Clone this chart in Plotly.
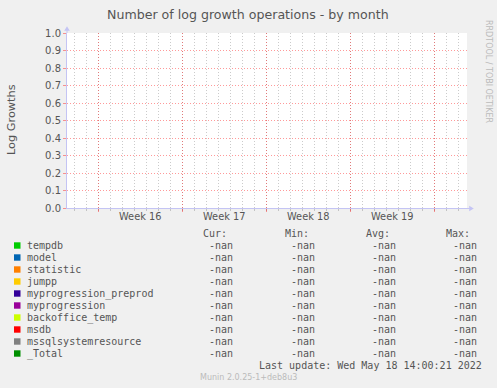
import math
import plotly.graph_objects as go

# ---------------- data ----------------
series_names = ["tempdb", "model", "statistic", "jumpp", "myprogression_preprod",
                "myprogression", "backoffice_temp", "msdb", "mssqlsystemresource", "_Total"]
series_colors = ["#00cc00", "#0066b3", "#ff8000", "#ffcc00", "#330099",
                 "#990099", "#ccff00", "#ff0000", "#808080", "#008f00"]
cur_values = ["-nan"] * 10
min_values = ["-nan"] * 10
avg_values = ["-nan"] * 10
max_values = ["-nan"] * 10
column_headers = ["Cur:", "Min:", "Avg:", "Max:"]

time_points = ["2022-04-15 09:24", "2022-05-18 17:24"]
series_y = [[math.nan, math.nan] for _ in series_names]

week_starts = ["2022-04-18", "2022-04-25", "2022-05-02", "2022-05-09", "2022-05-16"]
week_mids = ["2022-04-21 12:00", "2022-04-28 12:00", "2022-05-05 12:00", "2022-05-12 12:00"]
week_labels = ["Week 16", "Week 17", "Week 18", "Week 19"]

title_text = "Number of log growth operations - by month"
y_title = "Log Growths"
last_update = "Last update: Wed May 18 14:00:21 2022"
munin_version = "Munin 2.0.25-1+deb8u3"
rrd_credit = "RRDTOOL / TOBI OETIKER"

# ---------------- layout helpers ----------------
W, H = 497, 388
L, R, T, B = 67, 467, 33, 208


def px(x):
    return (x - L) / (R - L)


def py(y):
    return (B - y) / (B - T)


TXT = "#555555"
MAJOR = "rgba(255,0,0,0.40)"
MINOR = "rgba(140,140,140,0.45)"
AXIS = "#c4c4f4"
SANS = "DejaVu Sans"
MONO = "DejaVu Sans Mono"

fig = go.Figure()
for name, color, ys in zip(series_names, series_colors, series_y):
    fig.add_trace(go.Scatter(x=time_points, y=ys, mode="lines", name=name,
                             line=dict(color=color, width=1), showlegend=False))

ann = []
shapes = []

# title
ann.append(dict(text=title_text, x=px(248), y=py(14), xref="paper", yref="paper",
                xanchor="center", yanchor="middle", showarrow=False,
                font=dict(family=SANS, size=12.6, color=TXT)))
# y title
ann.append(dict(text=y_title, x=px(11), y=py(119), xref="paper", yref="paper",
                xanchor="center", yanchor="middle", showarrow=False, textangle=-90,
                font=dict(family=SANS, size=11.3, color=TXT)))
# right credit
ann.append(dict(text=rrd_credit, x=px(489), y=py(71), xref="paper", yref="paper",
                xanchor="center", yanchor="middle", showarrow=False, textangle=90,
                font=dict(family=SANS, size=8, color="#bbbbbb")))
# week labels
for xm, lab in zip(week_mids, week_labels):
    ann.append(dict(text=lab, x=xm, y=py(216.5), xref="x", yref="paper",
                    xanchor="center", yanchor="middle", showarrow=False,
                    font=dict(family=SANS, size=9.8, color=TXT)))

# legend header
header_right = [228, 310, 391, 471]
value_right = [234, 316, 397, 478]
for hx, h in zip(header_right, column_headers):
    ann.append(dict(text=h, x=px(hx), y=py(233.5), xref="paper", yref="paper",
                    xanchor="right", yanchor="middle", showarrow=False, borderpad=0,
                    font=dict(family=MONO, size=10, color=TXT)))

cols = [cur_values, min_values, avg_values, max_values]
for i, (name, color) in enumerate(zip(series_names, series_colors)):
    yc = 245.5 + 12 * i
    shapes.append(dict(type="rect", xref="paper", yref="paper",
                       x0=px(14), x1=px(20.5), y0=py(yc - 3.2), y1=py(yc + 3.2),
                       fillcolor=color, line=dict(width=0)))
    ann.append(dict(text=name, x=px(26), y=py(yc), xref="paper", yref="paper",
                    xanchor="left", yanchor="middle", showarrow=False, borderpad=0,
                    font=dict(family=MONO, size=10, color=TXT)))
    for vx, col in zip(value_right, cols):
        ann.append(dict(text=col[i], x=px(vx), y=py(yc), xref="paper", yref="paper",
                        xanchor="right", yanchor="middle", showarrow=False, borderpad=0,
                        font=dict(family=MONO, size=10, color=TXT)))

ann.append(dict(text=last_update, x=px(483), y=py(365.5), xref="paper", yref="paper",
                xanchor="right", yanchor="middle", showarrow=False, borderpad=0,
                font=dict(family=MONO, size=10, color=TXT)))
ann.append(dict(text=munin_version, x=px(248.5), y=py(377.5), xref="paper", yref="paper",
                xanchor="center", yanchor="middle", showarrow=False, borderpad=0,
                font=dict(family=SANS, size=8, color="#bbbbbb")))

# axis arrows
shapes.append(dict(type="line", xref="paper", yref="paper", x0=px(67), x1=px(67),
                   y0=py(33), y1=py(30), line=dict(color=AXIS, width=1)))
shapes.append(dict(type="path", xref="paper", yref="paper",
                   path=f"M {px(64.2)} {py(30.8)} L {px(69.8)} {py(30.8)} L {px(67)} {py(26.3)} Z",
                   fillcolor=AXIS, line=dict(width=0)))
shapes.append(dict(type="line", xref="paper", yref="paper", x0=px(467), x1=px(470),
                   y0=py(208.5), y1=py(208.5), line=dict(color=AXIS, width=1)))
shapes.append(dict(type="path", xref="paper", yref="paper",
                   path=f"M {px(469.2)} {py(205.7)} L {px(469.2)} {py(211.3)} L {px(473.8)} {py(208.5)} Z",
                   fillcolor=AXIS, line=dict(width=0)))

fig.update_layout(
    width=W, height=H,
    margin=dict(l=L, r=W - R, t=T, b=H - B, pad=0),
    paper_bgcolor="#f0f0f0", plot_bgcolor="#ffffff",
    showlegend=False,
    annotations=ann, shapes=shapes,
    xaxis=dict(type="date", range=time_points, tickmode="array", tickvals=week_starts,
               showticklabels=False, ticks="outside", ticklen=3, tickcolor=MAJOR,
               showgrid=True, gridcolor=MAJOR, griddash="1px,2px", gridwidth=1,
               showline=True, linecolor=AXIS, linewidth=1, zeroline=False,
               minor=dict(tickmode="linear", tick0="2022-04-18", dtick=86400000,
                          showgrid=True, gridcolor=MINOR, griddash="1px,2px",
                          ticks="outside", ticklen=2, tickcolor=MINOR)),
    yaxis=dict(range=[0, 1], tickmode="linear", tick0=0, dtick=0.1, tickformat=".1f",
               ticks="outside", ticklen=3, tickcolor=MAJOR,
               showgrid=True, gridcolor=MAJOR, griddash="1px,2px", gridwidth=1,
               showline=True, linecolor=AXIS, linewidth=1, zeroline=False,
               tickfont=dict(family=SANS, size=10, color=TXT)),
)

fig.write_html("out.html", config={"displayModeBar": False},
               post_script="document.body.style.margin='0px';document.body.style.padding='0px';document.body.style.overflow='hidden';")
